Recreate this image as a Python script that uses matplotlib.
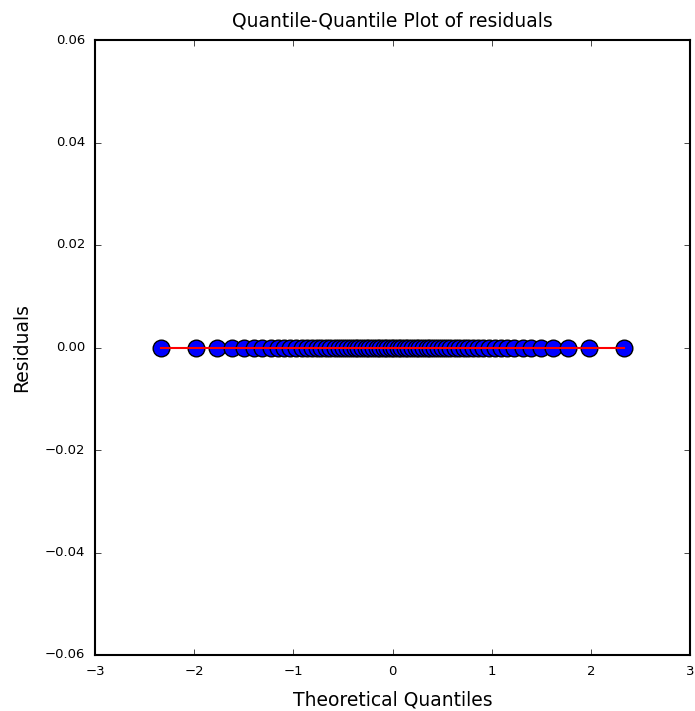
import matplotlib
matplotlib.use("Agg")
import matplotlib.pyplot as plt

plt.style.use("classic")

# theoretical quantiles (lower half; upper half is symmetric)
q_lower = [-2.332, -1.979, -1.773, -1.623, -1.502, -1.400, -1.311, -1.230,
           -1.158, -1.092, -1.029, -0.970, -0.914, -0.861, -0.811, -0.762,
           -0.716, -0.671, -0.627, -0.584, -0.542, -0.501, -0.461, -0.422,
           -0.383, -0.345, -0.307, -0.270, -0.233, -0.196, -0.161, -0.125,
           -0.089, -0.053, -0.018]
theoretical = q_lower + [-v for v in reversed(q_lower)]
residuals = [0.0] * len(theoretical)

# fitted reference line
fit_x = [theoretical[0], theoretical[-1]]
fit_y = [0.0, 0.0]

fig = plt.figure(figsize=(6.95, 7.11), dpi=100)
ax = fig.add_axes([95 / 695, 1 - 655 / 711, 595 / 695, 615 / 711])

ax.plot(theoretical, residuals, "o", color="blue", markeredgecolor="black",
        markersize=12, markeredgewidth=1, zorder=2)
ax.plot(fit_x, fit_y, "-", color="red", linewidth=1.5, zorder=3)

ax.set_xlim(-3, 3)
ax.set_ylim(-0.06, 0.06)
ax.set_xticks([-3, -2, -1, 0, 1, 2, 3])
ax.set_yticks([-0.06, -0.04, -0.02, 0.00, 0.02, 0.04, 0.06])
ax.tick_params(labelsize=9.5, pad=7)
for sp in ax.spines.values():
    sp.set_linewidth(1.5)

ax.set_title("Quantile-Quantile Plot of residuals", fontsize=13.5, pad=10)
ax.set_xlabel("Theoretical Quantiles", fontsize=13.5, labelpad=9)
ax.set_ylabel("Residuals", fontsize=13.5, labelpad=10)

fig.savefig("out.png", dpi=100)
